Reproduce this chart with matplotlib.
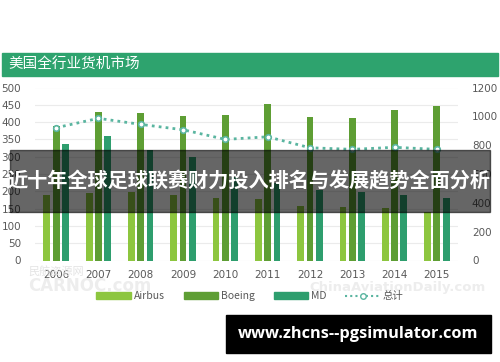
import matplotlib
matplotlib.use("Agg")
import matplotlib.pyplot as plt
import matplotlib.patches as mpatches
from matplotlib.lines import Line2D
import numpy as np

years = ["2006", "2007", "2008", "2009", "2010", "2011", "2012", "2013", "2014", "2015"]
airbus = [190, 195, 198, 188, 182, 178, 158, 154, 152, 140]
boeing = [390, 430, 425, 418, 421, 452, 415, 412, 434, 447]
md = [338, 359, 318, 300, 240, 225, 205, 198, 190, 180]
total = [921, 986, 944, 907, 840, 858, 782, 771, 785, 771]
left_ticks = [0, 50, 100, 150, 200, 250, 300, 350, 400, 450, 500]
right_ticks = [0, 200, 400, 600, 800, 1000, 1200]
chart_title = "美国全行业货机市场"
overlay_title = "近十年全球足球联赛财力投入排名与发展趋势全面分析"
url_text = "www.zhcns--pgsimulator.com"

c_airbus = "#8DC63F"
c_boeing = "#5E9E34"
c_md = "#2E9E6E"
c_total = "#5AB5A0"
c_head = "#2EA36E"
c_text = "#595959"

W, H = 500, 362
fig = plt.figure(figsize=(W / 100, H / 100), dpi=100)
fig.patch.set_facecolor("white")

def fx(px):
    return px / W

def fy(py):
    return 1 - py / H

ax = fig.add_axes([fx(35), fy(260.5), fx(458) - fx(35), fy(87.5) - fy(260.5)])
x = np.arange(len(years))
bw = 0.16
off = 0.22
ax.bar(x - off, airbus, bw, color=c_airbus, zorder=3)
ax.bar(x, boeing, bw, color=c_boeing, zorder=3)
ax.bar(x + off, md, bw, color=c_md, zorder=3)
ax.set_xlim(-0.5, len(years) - 0.5)
ax.set_ylim(0, 500)
ax.set_yticks(left_ticks)
ax.set_xticks(x)
ax.set_xticklabels(years)
ax.tick_params(axis="both", length=0, labelsize=7.5, labelcolor=c_text)
ax.tick_params(axis="x", pad=7)
ax.tick_params(axis="y", pad=10)
ax.grid(axis="y", color="#EBEBEB", linewidth=0.8, zorder=0)
for s in ax.spines.values():
    s.set_visible(False)

ax2 = ax.twinx()
ax2.plot(x, total, linestyle=(0, (1, 1.5)), color=c_total, linewidth=2,
         marker="o", markersize=4, markerfacecolor="white", markeredgecolor=c_total,
         markeredgewidth=1.2, zorder=5)
ax2.set_ylim(0, 1200)
ax2.set_yticks(right_ticks)
ax2.tick_params(axis="y", length=0, labelsize=7.5, labelcolor=c_text, pad=10)
for s in ax2.spines.values():
    s.set_visible(False)

# Legend
handles = [
    mpatches.Patch(color=c_airbus, label="Airbus"),
    mpatches.Patch(color=c_boeing, label="Boeing"),
    mpatches.Patch(color=c_md, label="MD"),
    Line2D([0], [0], linestyle=(0, (1, 1.5)), color=c_total, linewidth=1.5, marker="o",
           markersize=4, markerfacecolor="white", markeredgecolor=c_total, label="总计"),
]
leg = fig.legend(handles=handles, loc="center", bbox_to_anchor=(fx(250), fy(296)), ncol=4,
                 frameon=False, handlelength=3.3, handleheight=0.6,
                 columnspacing=1.8, handletextpad=0.3,
                 prop={"family": ["Noto Sans CJK SC", "DejaVu Sans"], "size": 7.5})
for t in leg.get_texts():
    t.set_color(c_text)

# Header band
fig.patches.append(mpatches.Rectangle((fx(2), fy(76)), fx(496), fy(53) - fy(76),
                                      transform=fig.transFigure, color=c_head, zorder=1))
fig.text(fx(8), fy(64.5), chart_title, color="white", fontsize=10.5, va="center", ha="left",
         family=["Noto Sans CJK SC", "DejaVu Sans"])

# Watermarks
fig.text(fx(28), fy(271), "民航资源网", color="#E4E4E4", fontsize=8, va="center", ha="left",
         family=["Noto Sans CJK SC", "DejaVu Sans"])
fig.text(fx(28), fy(286), "CARNOC.com", color="#EDEDED", fontsize=12, va="center", ha="left",
         fontweight="bold")
fig.text(fx(309), fy(287), "ChinaAviationDaily.com", color="#EDEDED", fontsize=9.5, va="center",
         ha="left", fontweight="bold")

# Overlay banner
fig.patches.append(mpatches.Rectangle((fx(10), fy(212)), fx(480), fy(150) - fy(212),
                                      transform=fig.transFigure, color="black", alpha=0.6,
                                      zorder=10))
fig.text(fx(249), fy(181), overlay_title, color="white", fontsize=14.5, fontweight="bold",
         va="center", ha="center", family=["Noto Sans CJK SC", "DejaVu Sans"], zorder=11)

# URL box
fig.patches.append(mpatches.Rectangle((fx(226), fy(353)), fx(265), fy(315) - fy(353),
                                      transform=fig.transFigure, color="black", zorder=10))
fig.text(fx(358.5), fy(334), url_text, color="white", fontsize=11.8, fontweight="bold",
         va="center", ha="center", family=["Open Sans", "DejaVu Sans"], zorder=11)

fig.savefig("out.png", dpi=100, facecolor="white")
